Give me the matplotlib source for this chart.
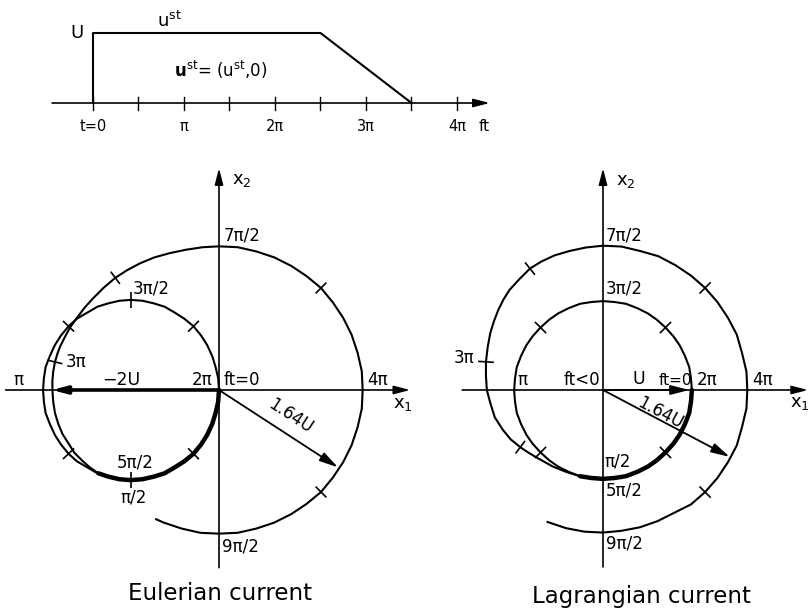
#!/usr/bin/env python3
"""Hodographs of the Eulerian and Lagrangian current after a switched-on steady current."""

import numpy as np
import matplotlib.pyplot as plt

plt.rcParams['font.family'] = 'DejaVu Sans'
plt.rcParams['mathtext.fontset'] = 'dejavusans'

W, H = 812, 612

# --- top strip: steady current u_st(ft), ft in units of pi, u in units of U ---
UST_FT = [0.0, 0.0, 2.5, 3.5]
UST_VAL = [0.0, 1.0, 1.0, 0.0]
TICK_FT = [0.0, 0.5, 1.0, 1.5, 2.0, 2.5, 3.0, 3.5, 4.0]
TICK_LAB_FT = [0.0, 1.0, 2.0, 3.0, 4.0]
TICK_LAB = ["t=0", "π", "2π", "3π", "4π"]

# --- Eulerian hodograph (units of U) ---
# first loop, ft = 0 .. 2pi
EUL1 = [(0, 0), (-0.01, -0.14), (-0.04, -0.27), (-0.08, -0.40), (-0.14, -0.53),
        (-0.21, -0.64), (-0.30, -0.75), (-0.41, -0.84), (-0.52, -0.91), (-0.64, -0.98),
        (-0.77, -1.02), (-0.90, -1.05), (-1.04, -1.06), (-1.17, -1.05), (-1.30, -1.02),
        (-1.43, -0.98), (-1.55, -0.91), (-1.67, -0.84), (-1.77, -0.75), (-1.86, -0.64),
        (-1.93, -0.53), (-1.99, -0.40), (-2.04, -0.27), (-2.06, -0.14), (-2.07, 0),
        (-2.06, 0.14), (-2.04, 0.27), (-1.99, 0.40), (-1.93, 0.53), (-1.86, 0.64),
        (-1.77, 0.75), (-1.67, 0.84), (-1.55, 0.91), (-1.43, 0.98), (-1.30, 1.02),
        (-1.17, 1.05), (-1.04, 1.06), (-0.90, 1.05), (-0.77, 1.02), (-0.64, 0.98),
        (-0.52, 0.91), (-0.41, 0.84), (-0.30, 0.75), (-0.21, 0.64), (-0.14, 0.53),
        (-0.08, 0.40), (-0.04, 0.27), (-0.01, 0.14), (0, 0)]
# second loop, ft = 2pi .. 9pi/2 (starts on top of loop one)
EUL2 = [(0, 0), (-0.01, -0.14), (-0.04, -0.27), (-0.08, -0.40), (-0.14, -0.53),
        (-0.21, -0.64), (-0.30, -0.75), (-0.41, -0.84), (-0.52, -0.91), (-0.64, -0.98),
        (-0.77, -1.02), (-0.90, -1.05), (-1.04, -1.06), (-1.17, -1.05), (-1.30, -1.02),
        (-1.42, -0.98), (-1.52, -0.91), (-1.61, -0.83), (-1.70, -0.74), (-1.77, -0.63),
        (-1.84, -0.52), (-1.89, -0.40), (-1.93, -0.27), (-1.95, -0.14), (-1.96, 0),
        (-1.96, 0.11), (-1.95, 0.22), (-1.93, 0.33), (-1.90, 0.43), (-1.87, 0.51),
        (-1.81, 0.63), (-1.75, 0.74), (-1.67, 0.85), (-1.58, 0.97), (-1.48, 1.08),
        (-1.36, 1.20), (-1.22, 1.32), (-1.08, 1.41), (-0.93, 1.49), (-0.76, 1.56),
        (-0.58, 1.61), (-0.39, 1.65), (-0.19, 1.68), (0, 1.69), (0.22, 1.68),
        (0.44, 1.63), (0.65, 1.56), (0.85, 1.46), (1.03, 1.34), (1.20, 1.20),
        (1.34, 1.03), (1.46, 0.85), (1.56, 0.65), (1.63, 0.44), (1.68, 0.22),
        (1.69, 0), (1.68, -0.22), (1.63, -0.44), (1.56, -0.65), (1.46, -0.85),
        (1.34, -1.03), (1.20, -1.20), (1.03, -1.34), (0.85, -1.46), (0.65, -1.56),
        (0.44, -1.63), (0.22, -1.68), (0, -1.69), (-0.22, -1.68), (-0.44, -1.63),
        (-0.65, -1.56), (-0.74, -1.52)]
EUL_SHARED = 16
EUL1_TICKS = [(-0.30, -0.75), (-1.04, -1.06), (-1.77, -0.75), (-1.77, 0.75),
              (-1.04, 1.06), (-0.30, 0.75)]
EUL2_TICKS = [(-1.93, 0.33), (-1.22, 1.32), (1.20, 1.20), (1.20, -1.20)]
EUL_MINUS2U = (-1.97, 0.0)
EUL_164U = (1.40, -0.91)

# --- Lagrangian hodograph (units of U) ---
LAG1 = [(1.01, 0), (1.00, -0.13), (0.98, -0.26), (0.93, -0.39), (0.87, -0.51),
        (0.80, -0.61), (0.71, -0.71), (0.61, -0.80), (0.51, -0.87), (0.39, -0.93),
        (0.26, -0.98), (0.13, -1.00), (0, -1.01), (-0.13, -1.00), (-0.26, -0.98),
        (-0.39, -0.93), (-0.51, -0.87), (-0.61, -0.80), (-0.71, -0.71), (-0.80, -0.61),
        (-0.87, -0.51), (-0.93, -0.39), (-0.98, -0.26), (-1.00, -0.13), (-1.01, 0),
        (-1.00, 0.13), (-0.98, 0.26), (-0.93, 0.39), (-0.87, 0.51), (-0.80, 0.61),
        (-0.71, 0.71), (-0.61, 0.80), (-0.51, 0.87), (-0.39, 0.93), (-0.26, 0.98),
        (-0.13, 1.00), (0, 1.01), (0.13, 1.00), (0.26, 0.98), (0.39, 0.93),
        (0.51, 0.87), (0.61, 0.80), (0.71, 0.71), (0.80, 0.61), (0.87, 0.51),
        (0.93, 0.39), (0.98, 0.26), (1.00, 0.13), (1.01, 0)]
LAG2 = [(1.01, 0), (1.00, -0.13), (0.98, -0.26), (0.93, -0.39), (0.87, -0.51),
        (0.80, -0.61), (0.71, -0.71), (0.61, -0.80), (0.51, -0.87), (0.39, -0.93),
        (0.26, -0.98), (0.13, -1.00), (0, -1.01), (-0.13, -1.00), (-0.26, -0.98),
        (-0.42, -0.93), (-0.57, -0.87), (-0.75, -0.77), (-0.85, -0.71), (-0.94, -0.65),
        (-1.05, -0.56), (-1.14, -0.45), (-1.23, -0.31), (-1.28, -0.15), (-1.32, 0),
        (-1.33, 0.16), (-1.33, 0.32), (-1.31, 0.49), (-1.28, 0.65), (-1.24, 0.78),
        (-1.19, 0.91), (-1.13, 1.03), (-1.06, 1.14), (-0.95, 1.26), (-0.83, 1.38),
        (-0.70, 1.46), (-0.55, 1.53), (-0.38, 1.58), (-0.19, 1.62), (0, 1.64),
        (0.21, 1.63), (0.42, 1.58), (0.63, 1.52), (0.82, 1.42), (1.00, 1.30),
        (1.16, 1.16), (1.30, 1.00), (1.42, 0.82), (1.52, 0.63), (1.58, 0.42),
        (1.63, 0.21), (1.64, 0), (1.63, -0.21), (1.58, -0.42), (1.52, -0.63),
        (1.42, -0.82), (1.30, -1.00), (1.16, -1.16), (1.00, -1.30), (0.80, -1.40),
        (0.62, -1.49), (0.42, -1.56), (0.21, -1.60), (0, -1.62), (-0.21, -1.61),
        (-0.42, -1.57), (-0.63, -1.50)]
LAG_SHARED = 15
LAG1_TICKS = [(0.71, -0.71), (-0.71, -0.71), (-0.71, 0.71), (0.71, 0.71)]
LAG2_TICKS = [(-0.94, -0.65), (-1.33, 0.32), (-0.83, 1.38), (1.16, 1.16), (1.16, -1.16)]
LAG_U = (0.98, 0.0)
LAG_164U = (1.44, -0.76)

LW = 1.5
LW_THICK = 3.2
LW_AX = 1.2


def px_axes(fig, x0, y0, x1, y1):
    return fig.add_axes([x0 / W, 1 - y1 / H, (x1 - x0) / W, (y1 - y0) / H])


def arrow(ax, start, end, lw=LW_AX, scale=14):
    ax.annotate("", xy=end, xytext=start,
                arrowprops=dict(arrowstyle="-|>,head_length=0.7,head_width=0.18",
                                color="k", lw=lw, shrinkA=0, shrinkB=0,
                                mutation_scale=scale))


def curve_ticks(ax, cx, cy, pts, half=0.09):
    for tx, ty in pts:
        i = int(np.argmin((cx - tx) ** 2 + (cy - ty) ** 2))
        i0, i1 = max(i - 1, 0), min(i + 1, len(cx) - 1)
        dx, dy = cx[i1] - cx[i0], cy[i1] - cy[i0]
        n = np.hypot(dx, dy)
        nx, ny = -dy / n, dx / n
        ax.plot([tx - nx * half, tx + nx * half], [ty - ny * half, ty + ny * half],
                color="k", lw=1.2, solid_capstyle="butt")


def hodo_axes(fig, box, origin, upx):
    x0, y0, x1, y1 = box
    ax = px_axes(fig, x0, y0, x1, y1)
    ax.set_xlim((x0 - origin[0]) / upx, (x1 - origin[0]) / upx)
    ax.set_ylim((origin[1] - y1) / upx, (origin[1] - y0) / upx)
    ax.set_axis_off()
    return ax


def draw_loops(ax, loop1, loop2, shared, ticks1, ticks2):
    x1, y1 = np.array(loop1, dtype=float).T
    x2, y2 = np.array(loop2, dtype=float).T
    ax.plot(x1, y1, color="k", lw=LW, solid_joinstyle="round")
    ax.plot(x2, y2, color="k", lw=LW, solid_joinstyle="round")
    # both loops run over the same path here -> drawn heavy
    ax.plot(x2[:shared], y2[:shared], color="k", lw=LW_THICK,
            solid_capstyle="round", solid_joinstyle="round")
    curve_ticks(ax, x1, y1, ticks1)
    curve_ticks(ax, x2, y2, ticks2)


fig = plt.figure(figsize=(W / 100, H / 100), dpi=100)

# ---------------- top strip ----------------
axt = px_axes(fig, 0, 0, W, 150)
axt.set_xlim(-93 / 91, (W - 93) / 91)
axt.set_ylim(-47 / 70, 103 / 70)
axt.set_axis_off()
arrow(axt, (-0.45, 0), (4.36, 0), lw=LW_AX, scale=14)
axt.plot(UST_FT, UST_VAL, color="k", lw=LW)
for f in TICK_FT:
    axt.plot([f, f], [-0.1, 0.09], color="k", lw=1.0)
for f, lab in zip(TICK_LAB_FT, TICK_LAB):
    axt.text(f, -0.34, lab, ha="center", va="center", fontsize=10.5)
axt.text(4.3, -0.34, "ft", ha="center", va="center", fontsize=11)
axt.text(-0.1, 1.0, "U", ha="right", va="center", fontsize=13)
axt.text(0.84, 1.17, r"u$^{\mathrm{st}}$", ha="center", va="center", fontsize=13)
axt.text(1.40, 0.47, r"$\mathbf{u}^{\mathrm{st}}$= (u$^{\mathrm{st}}$,0)",
         ha="center", va="center", fontsize=12)

fs = 12

# ---------------- Eulerian ----------------
axe = hodo_axes(fig, (0, 160, 412, 575), (219, 390), 85)
arrow(axe, (-2.51, 0), (2.25, 0))
arrow(axe, (0, -2.09), (0, 2.61))
draw_loops(axe, EUL1, EUL2, EUL_SHARED, EUL1_TICKS, EUL2_TICKS)
arrow(axe, (0, 0), EUL_MINUS2U, lw=2.6, scale=12)
arrow(axe, (0, 0), EUL_164U, lw=1.3, scale=16)

axe.text(0.15, 2.47, r"x$_2$", ha="left", va="center", fontsize=13)
axe.text(2.16, -0.16, r"x$_1$", ha="center", va="center", fontsize=13)
axe.text(0.05, 1.82, "7π/2", ha="left", va="center", fontsize=fs)
axe.text(-1.02, 1.19, "3π/2", ha="left", va="center", fontsize=fs)
axe.text(-1.80, 0.33, "3π", ha="left", va="center", fontsize=fs)
axe.text(-2.36, 0.12, "π", ha="center", va="center", fontsize=fs)
axe.text(-1.15, 0.12, "−2U", ha="center", va="center", fontsize=12.5)
axe.text(-0.20, 0.12, "2π", ha="center", va="center", fontsize=fs)
axe.text(0.06, 0.12, "ft=0", ha="left", va="center", fontsize=fs)
axe.text(1.87, 0.12, "4π", ha="center", va="center", fontsize=fs)
axe.text(0.84, -0.31, "1.64U", ha="center", va="center", fontsize=fs,
         rotation=-33, rotation_mode="anchor")
axe.text(-0.99, -0.85, "5π/2", ha="center", va="center", fontsize=fs)
axe.text(-1.00, -1.26, "π/2", ha="center", va="center", fontsize=fs)
axe.text(0.04, -1.84, "9π/2", ha="left", va="center", fontsize=fs)

# ---------------- Lagrangian ----------------
axl = hodo_axes(fig, (412, 160, 812, 575), (603, 390), 88)
arrow(axl, (-1.60, 0), (2.33, 0))
arrow(axl, (0, -2.01), (0, 2.52))
draw_loops(axl, LAG1, LAG2, LAG_SHARED, LAG1_TICKS, LAG2_TICKS)
arrow(axl, (0, 0), LAG_U, lw=1.3, scale=16)
arrow(axl, (0, 0), LAG_164U, lw=1.3, scale=16)

axl.text(0.15, 2.38, r"x$_2$", ha="left", va="center", fontsize=13)
axl.text(2.24, -0.15, r"x$_1$", ha="center", va="center", fontsize=13)
axl.text(0.03, 1.75, "7π/2", ha="left", va="center", fontsize=fs)
axl.text(0.03, 1.15, "3π/2", ha="left", va="center", fontsize=fs)
axl.text(-1.58, 0.36, "3π", ha="center", va="center", fontsize=fs)
axl.text(-0.92, 0.11, "π", ha="center", va="center", fontsize=fs)
axl.text(-0.24, 0.11, "ft<0", ha="center", va="center", fontsize=fs)
axl.text(0.41, 0.13, "U", ha="center", va="center", fontsize=12.5)
axl.text(0.82, 0.11, "ft=0", ha="center", va="center", fontsize=11)
axl.text(1.18, 0.11, "2π", ha="center", va="center", fontsize=fs)
axl.text(1.81, 0.11, "4π", ha="center", va="center", fontsize=fs)
axl.text(0.65, -0.26, "1.64U", ha="center", va="center", fontsize=fs,
         rotation=-28, rotation_mode="anchor")
axl.text(0.02, -0.81, "π/2", ha="left", va="center", fontsize=fs)
axl.text(0.03, -1.14, "5π/2", ha="left", va="center", fontsize=fs)
axl.text(0.03, -1.74, "9π/2", ha="left", va="center", fontsize=fs)

fig.text(220 / W, 1 - 594 / H, "Eulerian current", ha="center", va="center", fontsize=16.5)
fig.text(641 / W, 1 - 596 / H, "Lagrangian current", ha="center", va="center", fontsize=16.5)

fig.savefig("out.png", dpi=100)
